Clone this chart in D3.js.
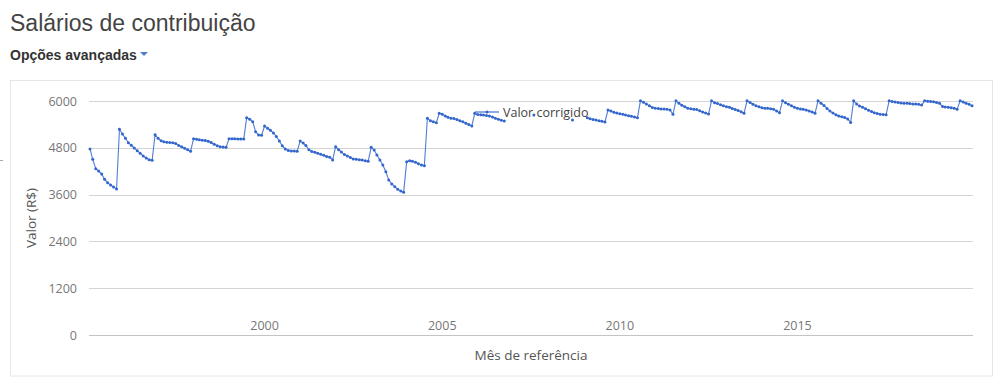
<!DOCTYPE html>
<html>
<head>
<meta charset="utf-8">
<script src="https://cdn.jsdelivr.net/npm/d3@7"></script>
<style>
  html, body { margin: 0; padding: 0; background: #fff; }
  svg { display: block; }
</style>
</head>
<body>
<svg id="chart" width="1000" height="384"></svg>
<script>
// ---------- data ----------
const inicio = [1995, 1];            // first month (year, monthIndex) -> Feb 1995
const valorCorrigido = [
  4770, 4505, 4265, 4205, 4128, 3992, 3905, 3846, 3795, 3743,
  5274, 5154, 5043, 4931, 4864, 4795, 4726, 4659, 4590, 4538, 4495, 4479,
  5136, 5043, 4980, 4955, 4942, 4935, 4928, 4910, 4860, 4825, 4787, 4750, 4710,
  5034, 5020, 5005, 4995, 4985, 4965, 4935, 4889, 4850, 4830, 4820, 4812,
  5034, 5030, 5030, 5028, 5028, 5028,
  5572, 5530, 5470, 5213, 5128, 5120,
  5359, 5300, 5250, 5180, 5090, 4974, 4850, 4770, 4730, 4720, 4715, 4712,
  4974, 4920, 4860, 4750, 4705, 4685, 4660, 4635, 4610, 4580, 4556, 4490,
  4828, 4750, 4690, 4630, 4590, 4550, 4515, 4505, 4495, 4485, 4470, 4455,
  4812, 4743, 4615, 4487, 4359, 4188, 3974, 3872, 3803, 3740, 3692, 3658,
  4444, 4470, 4453, 4428, 4393, 4359, 4341,
  5556, 5495, 5470, 5444,
  5684, 5658, 5615, 5585, 5560, 5550, 5525, 5495, 5465, 5430, 5395, 5359,
  5684, 5655, 5645, 5641, 5630, 5615, 5590, 5560, 5530, 5505, 5487,
  null, null, null, null, null, null, null, null, null,
  5641,
  null, null, null, null, null, null, null, null, null, null, null, null,
  5513,
  null, null, null, null,
  5572, 5545, 5525, 5513, 5495, 5480, 5462,
  5769, 5743, 5710, 5690, 5675, 5660, 5641, 5625, 5607, 5590, 5572,
  6005, 5966, 5920, 5880, 5835, 5815, 5805, 5795, 5795, 5790, 5769, 5658,
  6005, 5940, 5890, 5850, 5815, 5800, 5790, 5780, 5750, 5720, 5695, 5667,
  6005, 5957, 5935, 5905, 5880, 5855, 5838, 5810, 5785, 5755, 5725, 5684,
  6005, 5960, 5915, 5880, 5854, 5830, 5812, 5812, 5800, 5786, 5745, 5700,
  6005, 5957, 5915, 5880, 5840, 5812, 5795, 5786, 5769, 5745, 5715, 5684,
  6005, 5945, 5885, 5810, 5745, 5690, 5645, 5615, 5595, 5580, 5540, 5450,
  6005, 5920, 5870, 5840, 5800, 5765, 5730, 5700, 5680, 5662, 5655, 5650,
  6005, 5990, 5975, 5960, 5950, 5940, 5940, 5935, 5925, 5920, 5915, 5897,
  6005, 5995, 5990, 5983, 5960, 5940, 5860, 5845, 5838, 5830, 5815, 5786,
  6005, 5975, 5945, 5915, 5880
];
const yTicks = [0, 1200, 2400, 3600, 4800, 6000];
const xTickYears = [2000, 2005, 2010, 2015];
const serieNome = "Valor corrigido";

// ---------- build ----------
const startDate = new Date(inicio[0], inicio[1], 1);
const dados = valorCorrigido.map((v, i) => ({ date: d3.timeMonth.offset(startDate, i), v }));
const endDate = dados[dados.length - 1].date;

const svg = d3.select("#chart");
const FONT = "'Open Sans', 'Liberation Sans', Arial, sans-serif";

const x = d3.scaleTime().domain([startDate, endDate]).range([90, 972]);
const y = d3.scaleLinear().domain([0, 6000]).range([335, 101]);

// header
svg.append("text").attr("x", 10).attr("y", 30.5)
  .attr("font-family", "'Liberation Sans', Arial, sans-serif").attr("font-size", 23)
  .attr("fill", "#444").text("Salários de contribuição");
svg.append("text").attr("x", 10).attr("y", 60)
  .attr("font-family", "'Liberation Sans', Arial, sans-serif").attr("font-size", 14)
  .attr("font-weight", "bold").attr("fill", "#333").text("Opções avançadas");
svg.append("path").attr("d", "M140,52L148,52L144,56Z").attr("fill", "#4d7fc9");

// frame
svg.append("rect").attr("x", 10.5).attr("y", 80.5).attr("width", 982).attr("height", 295.5)
  .attr("fill", "none").attr("stroke", "#e6e6e6");
svg.append("line").attr("x1", 0).attr("x2", 3).attr("y1", 160.5).attr("y2", 160.5)
  .attr("stroke", "#aaa");

// gridlines + y axis labels
const gy = svg.append("g");
gy.selectAll("line").data(yTicks).join("line")
  .attr("x1", 89).attr("x2", 973)
  .attr("y1", d => Math.round(y(d)) + 0.5).attr("y2", d => Math.round(y(d)) + 0.5)
  .attr("stroke", d => d === 0 ? "#c4c4c4" : "#d4d4d4");
gy.selectAll("text").data(yTicks).join("text")
  .attr("x", 77).attr("y", d => y(d) + 4.5)
  .attr("text-anchor", "end").attr("font-family", FONT).attr("font-size", 12.5)
  .attr("fill", "#777").text(d => d);

// x axis labels
const xt = xTickYears.map(yr => new Date(yr, 0, 1));
svg.append("g").selectAll("text").data(xt).join("text")
  .attr("x", d => x(d)).attr("y", 330)
  .attr("text-anchor", "middle").attr("font-family", FONT).attr("font-size", 12.5)
  .attr("fill", "#777").text(d => d.getFullYear());

// axis titles
svg.append("text").attr("transform", "translate(36,218) rotate(-90)")
  .attr("text-anchor", "middle").attr("font-family", FONT).attr("font-size", 13.5)
  .attr("fill", "#555").text("Valor (R$)");
svg.append("text").attr("x", 531).attr("y", 360)
  .attr("text-anchor", "middle").attr("font-family", FONT).attr("font-size", 13.5)
  .attr("fill", "#555").text("Mês de referência");

// series
const COLOR = "#3366cc";
const line = d3.line().defined(d => d.v != null).x(d => x(d.date)).y(d => y(d.v));
svg.append("path").datum(dados).attr("d", line)
  .attr("fill", "none").attr("stroke", COLOR).attr("stroke-width", 1.1).attr("stroke-opacity", 0.85);
svg.append("g").selectAll("circle").data(dados.filter(d => d.v != null)).join("circle")
  .attr("cx", d => x(d.date)).attr("cy", d => y(d.v)).attr("r", 1.5).attr("fill", COLOR);

// legend
const lg = svg.append("g");
lg.append("line").attr("x1", 475).attr("x2", 499).attr("y1", 112).attr("y2", 112)
  .attr("stroke", COLOR).attr("stroke-width", 1.1);
lg.append("circle").attr("cx", 487).attr("cy", 112).attr("r", 1.5).attr("fill", COLOR);
lg.append("text").attr("x", 503).attr("y", 116.5).attr("font-family", FONT)
  .attr("font-size", 12.5).attr("fill", "#444").text(serieNome);
</script>
</body>
</html>
